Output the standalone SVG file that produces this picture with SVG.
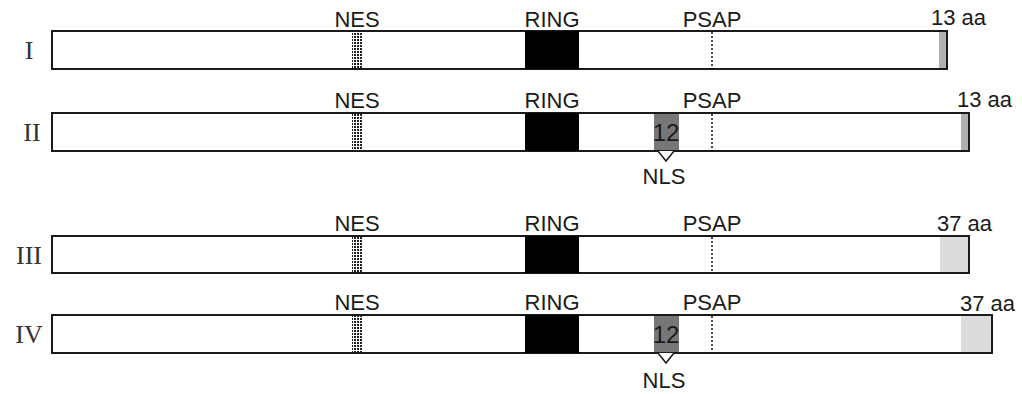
<svg xmlns="http://www.w3.org/2000/svg" width="1022" height="394" viewBox="0 0 1022 394">
<style>
.bar{fill:#fff;stroke:#1a1a1a;stroke-width:2}
.lbl{font-family:"Liberation Sans",Arial,sans-serif;font-size:22px;fill:#1a1a1a;text-anchor:middle}
.num{font-family:"Liberation Sans",Arial,sans-serif;font-size:24px;fill:#1a1a1a;text-anchor:middle}
.end{font-family:"Liberation Sans",Arial,sans-serif;font-size:22px;fill:#1a1a1a}
.row{font-family:"Liberation Serif","Times New Roman",serif;font-size:26px;fill:#333;text-anchor:middle}
.ring{fill:#000}
.psap{stroke:#222;stroke-width:1.6;stroke-dasharray:2,2}
.nls{fill:#777;stroke:none}
.v{fill:#fff;stroke:#1a1a1a;stroke-width:1.5}
</style>
<defs>
<pattern id="dots" x="0" y="0" width="3" height="3" patternUnits="userSpaceOnUse">
<rect x="0" y="0" width="2" height="2" fill="#222"/>
</pattern>
</defs>
<rect width="1022" height="394" fill="#fff"/>
<g id="row1">
<rect class="bar" x="52" y="31" width="895" height="38"/>
<rect x="352" y="32" width="10" height="36" fill="url(#dots)"/>
<rect class="ring" x="525" y="31" width="54" height="38"/>
<line class="psap" x1="712" y1="32" x2="712" y2="68"/>
<rect x="939" y="32" width="7" height="36" fill="#b0b0b0"/>
<text class="row" x="29" y="59">I</text>
<text class="lbl" x="357" y="27">NES</text>
<text class="lbl" x="552" y="27">RING</text>
<text class="lbl" x="712" y="27">PSAP</text>
<text class="end" x="931" y="25">13 aa</text>
</g>
<g id="row2">
<rect class="bar" x="52" y="113" width="917" height="38"/>
<rect x="352" y="114" width="10" height="36" fill="url(#dots)"/>
<rect class="ring" x="525" y="113" width="54" height="38"/>
<rect class="nls" x="654" y="114" width="25" height="36"/>
<text class="num" x="666" y="141">12</text>
<line class="psap" x1="712" y1="114" x2="712" y2="150"/>
<rect x="961" y="114" width="7" height="36" fill="#b0b0b0"/>
<polyline class="v" points="658,151 666,161 674,151"/>
<text class="row" x="32" y="141">II</text>
<text class="lbl" x="357" y="108">NES</text>
<text class="lbl" x="552" y="108">RING</text>
<text class="lbl" x="712" y="108">PSAP</text>
<text class="lbl" x="664" y="184">NLS</text>
<text class="end" x="957" y="107">13 aa</text>
</g>
<g id="row3">
<rect class="bar" x="52" y="236" width="917" height="37"/>
<rect x="352" y="237" width="10" height="35" fill="url(#dots)"/>
<rect class="ring" x="525" y="236" width="54" height="37"/>
<line class="psap" x1="712" y1="237" x2="712" y2="272"/>
<rect x="940" y="237" width="28" height="35" fill="#dcdcdc"/>
<text class="row" x="29" y="264">III</text>
<text class="lbl" x="357" y="231">NES</text>
<text class="lbl" x="552" y="231">RING</text>
<text class="lbl" x="712" y="231">PSAP</text>
<text class="end" x="937" y="231">37 aa</text>
</g>
<g id="row4">
<rect class="bar" x="52" y="315" width="940" height="38"/>
<rect x="352" y="316" width="10" height="36" fill="url(#dots)"/>
<rect class="ring" x="525" y="315" width="54" height="38"/>
<rect class="nls" x="654" y="316" width="25" height="36"/>
<text class="num" x="666" y="343">12</text>
<line class="psap" x1="712" y1="316" x2="712" y2="352"/>
<rect x="961" y="316" width="30" height="36" fill="#dcdcdc"/>
<polyline class="v" points="658,353 666,363 674,353"/>
<text class="row" x="29" y="343">IV</text>
<text class="lbl" x="357" y="310">NES</text>
<text class="lbl" x="552" y="310">RING</text>
<text class="lbl" x="712" y="310">PSAP</text>
<text class="lbl" x="664" y="388">NLS</text>
<text class="end" x="960" y="311">37 aa</text>
</g>
</svg>
